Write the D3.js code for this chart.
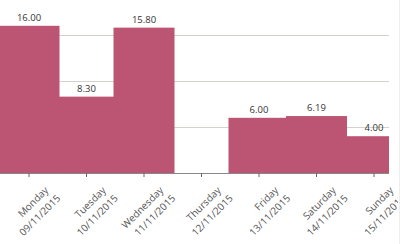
<!DOCTYPE html>
<html>
<head>
<meta charset="utf-8">
<script src="https://cdn.jsdelivr.net/npm/d3@7"></script>
<style>
  body { margin: 0; background: #fff; }
  svg { display: block; }
</style>
</head>
<body>
<script>
// daily totals, one bar per day
const days = ['Monday', 'Tuesday', 'Wednesday', 'Thursday', 'Friday', 'Saturday', 'Sunday']
const dates = ['09/11/2015', '10/11/2015', '11/11/2015', '12/11/2015', '13/11/2015', '14/11/2015', '15/11/2015']
const values = [16.00, 8.30, 15.80, 0, 6.00, 6.19, 4.00]
const gridValues = [5, 10, 15]

let width = 400
let height = 244
let plotRight = 389
let baseline = 173

const svg = d3.select("body")
    .append("svg")
    .attr("width", width)
    .attr("height", height)

svg.append("defs")
    .append("clipPath")
    .attr("id", "plot-clip")
    .append("rect")
    .attr("x", 0).attr("y", -20)
    .attr("width", plotRight).attr("height", baseline + 20)

const x = d3.scaleBand()
    .domain(days)
    .range([0.25, 402.75])
    .padding(0)

const y = d3.scaleLinear()
    .domain([0, 20])
    .range([baseline, baseline - 184])

// bars are a bit wider than the band and overlap; taller ones sit on top
let barW = x.bandwidth() + 3.5
let order = d3.range(values.length).sort((a, b) => values[a] - values[b])

// gridlines
svg.append("g")
    .selectAll("line")
    .data(gridValues)
    .join("line")
      .attr("x1", 0)
      .attr("x2", plotRight)
      .attr("y1", d => Math.round(y(d)) + 0.5)
      .attr("y2", d => Math.round(y(d)) + 0.5)
      .attr("stroke", "#d3d3cb")
      .attr("stroke-width", 1)

// bars
svg.append("g")
    .attr("clip-path", "url(#plot-clip)")
    .selectAll("rect")
    .data(order)
    .join("rect")
      .attr("x", i => x(days[i]) + x.bandwidth() / 2 - barW / 2)
      .attr("y", i => y(values[i]))
      .attr("width", barW)
      .attr("height", i => y(0) - y(values[i]))
      .attr("fill", "#bb5573")

// value labels
svg.append("g")
    .selectAll("text")
    .data(values)
    .join("text")
      .attr("x", (d, i) => x(days[i]) + x.bandwidth() / 2)
      .attr("y", d => y(d) - 5)
      .attr("text-anchor", "middle")
      .attr("font-family", "Open Sans, sans-serif")
      .attr("font-size", "9.5px")
      .attr("fill", "#333")
      .text(d => d > 0 ? d.toFixed(2) : "")

// x axis
const xAxis = svg.append("g")
    .attr("transform", `translate(0,${baseline})`)
    .call(d3.axisBottom(x).tickSize(4).tickFormat(""))

xAxis.select(".domain")
    .attr("d", `M0,0.5H${plotRight}`)
    .attr("stroke", "#888")
xAxis.selectAll(".tick line").attr("stroke", "#666")

// two-line rotated tick labels: day name, then date
xAxis.selectAll(".tick")
    .each(function (d, i) {
      let g = d3.select(this)
      g.append("text")
          .attr("transform", "translate(20,18) rotate(-45)")
          .attr("text-anchor", "end")
          .attr("font-family", "Open Sans, sans-serif")
          .attr("font-size", "10px")
          .attr("fill", "#555")
          .text(days[i])
      g.append("text")
          .attr("transform", "translate(32,26) rotate(-45)")
          .attr("text-anchor", "end")
          .attr("font-family", "Open Sans, sans-serif")
          .attr("font-size", "10px")
          .attr("fill", "#555")
          .text(dates[i])
    })

// right edge of the frame hides label overflow
svg.append("rect")
    .attr("x", 398).attr("y", 0)
    .attr("width", 2).attr("height", height)
    .attr("fill", "#fff")
svg.append("line")
    .attr("x1", 399.5).attr("x2", 399.5)
    .attr("y1", 0).attr("y2", height)
    .attr("stroke", "#eee")
</script>
</body>
</html>
